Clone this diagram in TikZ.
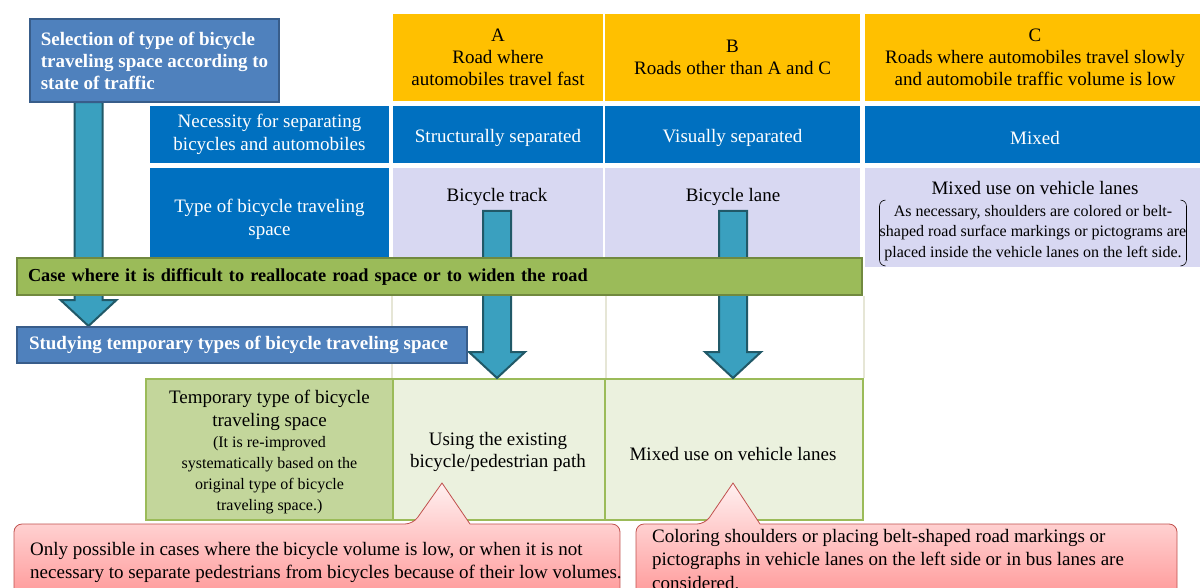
\documentclass[tikz,border=0pt]{standalone}
\usepackage{fontspec}
\setmainfont{Liberation Serif}
\usetikzlibrary{positioning}
\usetikzlibrary{calc}
\definecolor{roadorange}{HTML}{FFC000}
\definecolor{tabblue}{HTML}{0070C0}
\definecolor{lavender}{HTML}{D8D8F2}
\definecolor{boxblue}{HTML}{4F81BD}
\definecolor{boxedge}{HTML}{385D8A}
\definecolor{barfill}{HTML}{9BBB59}
\definecolor{baredge}{HTML}{71893F}
\definecolor{arrowfill}{HTML}{3AA0BF}
\definecolor{arrowedge}{HTML}{215968}
\definecolor{tempfill}{HTML}{C3D69B}
\definecolor{paleg}{HTML}{EBF1DE}
\definecolor{gridgray}{HTML}{E6E6D6}
\definecolor{notered}{HTML}{C0504D}
\definecolor{notetop}{HTML}{FFF0F0}
\definecolor{notebottom}{HTML}{FF8F8F}

\tikzset{
  cell/.style={inner sep=0pt, align=center, font=\fontsize{19}{23}\selectfont},
  lowtext/.style={execute at begin node={\rule{0pt}{20pt}}},
  headcell/.style={cell, lowtext, fill=roadorange, font=\fontsize{19}{22}\selectfont},
  bluecell/.style={cell, lowtext, fill=tabblue, text=white},
  typecell/.style={cell, fill=lavender},
  tempcell/.style={cell, draw=barfill, line width=2pt},
  titlebox/.style={fill=boxblue, draw=boxedge, line width=2pt, inner sep=0pt,
    text=white, font=\bfseries\fontsize{19}{22}\selectfont},
  barbox/.style={fill=barfill, draw=baredge, line width=2.5pt, inner ysep=0pt,
    font=\bfseries\fontsize{18.3}{22}\selectfont},
  blockarrow/.style={fill=arrowfill, draw=arrowedge, line width=2pt},
  gridline/.style={draw=gridgray, line width=2pt},
  bracketline/.style={draw=black, line width=0.6pt},
  callout/.style={draw=notered, line width=0.8pt, top color=notetop, bottom color=notebottom},
  notetext/.style={inner sep=0pt, align=left, font=\fontsize{19}{23.5}\selectfont},
}

% wide arrow: shaft from #1 down to the y of #2
\newcommand{\bigarrow}[2]{%
  \draw[blockarrow] let \p1=(#1), \p2=(#2) in
    (\x1-14pt,\y1) -- (\x1+14pt,\y1) -- (\x1+14pt,\y2+26pt) -- (\x1+28pt,\y2+26pt)
    -- (\x1,\y2) -- (\x1-28pt,\y2+26pt) -- (\x1-14pt,\y2+26pt) -- cycle;}

\begin{document}
\begin{tikzpicture}[x=1pt,y=-1pt]
  \useasboundingbox (0,0) rectangle (1200,587);

  % road classes
  \node[headcell, minimum width=210, minimum height=87] (headA) at (498,57.5) {A\\Road where\\automobiles travel fast};
  \node[headcell, minimum width=255, minimum height=87] (headB) at (732.5,57.5) {B\\Roads other than A and C};
  \node[headcell, minimum width=340, minimum height=87] (headC) at (1035,57.5) {C\\Roads where automobiles travel slowly\\and automobile traffic volume is low};

  \node[bluecell, minimum width=239, minimum height=57] (needrow) at (269.5,134.5) {Necessity for separating\\bicycles and automobiles};
  \node[bluecell, minimum width=210, minimum height=57] (needA) at (498,134.5) {Structurally separated};
  \node[bluecell, minimum width=255, minimum height=57] (needB) at (732.5,134.5) {Visually separated};
  \node[bluecell, minimum width=340, minimum height=57] (needC) at (1035,134.5) {Mixed};

  \node[bluecell, minimum width=239, minimum height=102] (typerow) at (269.5,219) {Type of bicycle traveling\\space};
  \node[typecell, minimum width=210, minimum height=102] (typeA) at (498,219) {};
  \node[typecell, minimum width=255, minimum height=102] (typeB) at (732.5,219) {};
  \node[typecell, minimum width=340, minimum height=99] (typeC) at (1035,217.5) {};

  \node[cell] (trackA) at (497,197) {Bicycle track};
  \node[cell] (laneB) at (733,197) {Bicycle lane};
  \node[cell] (mixC) at (1035,188) {Mixed use on vehicle lanes};
  \node[cell, font=\fontsize{16}{20.5}\selectfont, inner ysep=5pt] (cnote) at (1033,233)
    {As necessary, shoulders are colored or belt-\\shaped road surface markings or pictograms are\\placed inside the vehicle lanes on the left side.};
  \draw[bracketline, rounded corners=6pt] ([xshift=6pt]cnote.north west) -- (cnote.north west)
    -- (cnote.south west) -- ([xshift=6pt]cnote.south west);
  \draw[bracketline, rounded corners=6pt] ([xshift=-6pt]cnote.north east) -- (cnote.north east)
    -- (cnote.south east) -- ([xshift=-6pt]cnote.south east);

  % temporary types
  \node[tempcell, fill=tempfill, minimum width=247, minimum height=141] (temprow) at (269.5,449.5) {};
  \node[tempcell, fill=paleg, minimum width=212, minimum height=141] (usingA) at (499,449.5) {};
  \node[tempcell, fill=paleg, minimum width=258, minimum height=141] (mixB) at (734,449.5) {};
  \node[cell, font=\fontsize{16}{21}\selectfont] (temptext) at (269.5,452)
    {{\fontsize{19}{23}\selectfont Temporary type of bicycle}\\[2pt]{\fontsize{19}{23}\selectfont traveling space}\\(It is re-improved\\systematically based on the\\original type of bicycle\\traveling space.)};
  \node[cell, font=\fontsize{19}{22}\selectfont] (usingtext) at (498,451.5) {Using the existing\\bicycle/pedestrian path};
  \node[cell] (mixtext) at (733,453.5) {Mixed use on vehicle lanes};

  \coordinate (selfoot) at (88.5,102);
  \coordinate (studytop) at (88.5,326);
  \coordinate (barfoot) at (0,296);
  \draw[gridline] (barfoot -| usingA.north west) -- (usingA.north west);
  \draw[gridline] (barfoot -| usingA.north east) -- (usingA.north east);
  \draw[gridline] (barfoot -| mixB.north east) -- (mixB.north east);

  \bigarrow{selfoot}{studytop}
  \bigarrow{[yshift=-5pt]trackA.south}{usingA.north}
  \bigarrow{[yshift=-5pt]laneB.south}{mixB.north}

  \node[titlebox, minimum width=450, minimum height=36] (study) at (242,344.5)
    {\parbox{426pt}{Studying temporary types of bicycle traveling space}};
  \node[titlebox, minimum width=249, minimum height=83, align=left] (select) at (154.5,60.5)
    {Selection of type of bicycle\\traveling space according to\\state of traffic};
  \node[barbox, text width=823, inner xsep=11pt, minimum height=37, align=left] (hardcase) at (439.5,276.5)
    {Case where it is difficult to reallocate road space or to widen the road};

  % notes
  \draw[callout] (14,560) [rounded corners=8pt] -- (14,524) -- (413,524) [sharp corners] -- (442,483)
    -- (470,524) [rounded corners=8pt] -- (620,524) -- (620,610) -- (14,610) -- cycle;
  \draw[callout] (636,560) [rounded corners=8pt] -- (636,524) -- (705,524) [sharp corners] -- (733,483)
    -- (760,524) [rounded corners=8pt] -- (1177,524) -- (1177,610) -- (636,610) -- cycle;
  \node[notetext, anchor=north west] (noteA) at (30,542)
    {Only possible in cases where the bicycle volume is low, or when it is not\\necessary to separate pedestrians from bicycles because of their low volumes.};
  \node[notetext, anchor=north west] (noteB) at (652,529)
    {Coloring shoulders or placing belt-shaped road markings or\\pictographs in vehicle lanes on the left side or in bus lanes are\\considered.};
\end{tikzpicture}
\end{document}
